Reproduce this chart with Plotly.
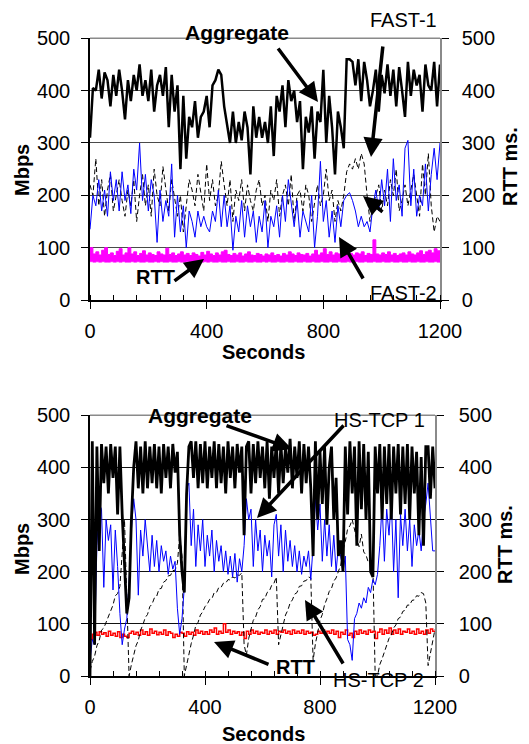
import plotly.graph_objects as go

# page is 529x744; the browser's default body margin puts the figure at (8, 8)
PAGE_OFF = 8
W, H = 529 - PAGE_OFF, 744 - PAGE_OFF

# ---------------- DATA : top panel (FAST TCP), samples every 10 s ----------------
t_top = list(range(0, 1201, 10))

fast_aggregate = [
    310, 405, 400, 440, 385, 435, 420, 370, 430, 390,
    440, 400, 345, 420, 380, 430, 400, 450, 390, 420,
    380, 440, 360, 410, 430, 390, 445, 330, 430, 360,
    410, 250, 390, 270, 350, 330, 380, 310, 350, 360,
    390, 330, 410, 420, 440, 430, 370, 330, 300, 360,
    300, 340, 305, 360, 330, 240, 370, 310, 350, 310,
    340, 300, 370, 275, 390, 360, 410, 330, 420, 380,
    400, 340, 380, 250, 350, 320, 370, 270, 360, 340,
    440, 300, 390, 330, 240, 360, 330, 290, 460, 460,
    455, 410, 460, 380, 455, 420, 370, 400, 440, 360,
    430, 395, 450, 390, 440, 370, 445, 400, 350, 455,
    390, 440, 410, 430, 360, 450, 410, 400, 455, 370,
    450]

fast_1 = [
    220, 200, 270, 180, 230, 160, 210, 240, 170, 200,
    230, 190, 160, 210, 180, 230, 150, 200, 240, 180,
    220, 160, 250, 200, 180, 255, 210, 170, 230, 190,
    160, 200, 130, 180, 230, 210, 180, 240, 200, 170,
    260, 190, 230, 180, 200, 265, 220, 180, 230, 150,
    210, 190, 230, 170, 220, 190, 170, 210, 230, 180,
    200, 150, 210, 190, 230, 160, 200, 220, 180, 240,
    150, 200, 210, 170, 220, 200, 150, 190, 220, 180,
    200, 250, 190, 210, 150, 190, 170, 200, 245, 260,
    250, 270, 250, 280, 260, 200, 150, 180, 200, 220,
    170, 210, 180, 230, 200, 250, 170, 190, 220, 180,
    210, 240, 200, 160, 260, 200, 280, 180, 130, 160,
    150]

fast_2 = [
    135, 200, 180, 230, 170, 210, 160, 245, 190, 230,
    170, 245, 190, 220, 165, 250, 210, 300, 190, 240,
    170, 230, 200, 110, 210, 150, 190, 160, 260, 120,
    200, 130, 180, 100, 170, 150, 120, 170, 140, 160,
    140, 130, 170, 150, 210, 140, 200, 140, 180, 95,
    160, 130, 190, 120, 180, 140, 170, 110, 160, 130,
    190, 100, 160, 140, 180, 120, 200, 150, 230, 180,
    140, 190, 120, 170, 150, 130, 200, 100, 160, 265,
    150, 190, 120, 170, 110, 180, 140, 190, 200, 205,
    190, 170, 140, 160, 140, 150, 130, 180, 210, 170,
    230, 180, 250, 150, 270, 190, 220, 160, 290, 305,
    180, 250, 160, 200, 180, 260, 170, 240, 290, 230,
    300]

fast_rtt_max = [
    100, 88, 92, 86, 95, 100, 87, 90, 85, 93,
    98, 86, 90, 100, 88, 92, 85, 89, 94, 86,
    90, 87, 85, 92, 88, 86, 99, 87, 90, 85,
    88, 92, 86, 89, 85, 90, 87, 84, 91, 86,
    93, 88, 85, 90, 86, 92, 95, 87, 85, 89,
    86, 90, 84, 88, 92, 86, 85, 89, 87, 84,
    88, 86, 90, 85, 87, 84, 89, 86, 92, 88,
    85, 90, 87, 86, 89, 84, 88, 95, 86, 90,
    98, 87, 92, 86, 90, 88, 85, 91, 87, 89,
    86, 90, 88, 92, 85, 89, 87, 115, 88, 86,
    90, 87, 92, 86, 89, 85, 88, 90, 86, 92,
    88, 86, 90, 94, 87, 92, 95, 90, 98, 94,
    92]

fast_rtt_min = [
    73, 72, 73, 72, 73, 72, 72, 73, 72, 73,
    72, 73, 72, 72, 73, 72, 73, 72, 72, 73,
    72, 72, 73, 72, 73, 72, 72, 73, 72, 72,
    73, 72, 72, 73, 72, 72, 73, 72, 72, 73,
    72, 73, 72, 72, 73, 72, 72, 73, 72, 72,
    73, 72, 72, 73, 72, 72, 73, 72, 72, 73,
    72, 73, 72, 72, 73, 72, 72, 73, 72, 72,
    73, 72, 72, 73, 72, 72, 73, 72, 72, 73,
    72, 72, 73, 72, 72, 73, 72, 72, 73, 72,
    72, 73, 72, 72, 73, 72, 72, 73, 72, 72,
    73, 72, 72, 73, 72, 72, 73, 72, 72, 73,
    72, 72, 73, 72, 72, 73, 72, 72, 73, 72,
    73]

# ---------------- DATA : bottom panel (HS-TCP), samples every 8 s ----------------
t_bot = list(range(0, 1201, 8))

hs_aggregate = [
    0, 450, 60, 440, 240, 445, 370, 440, 350, 445,
    380, 440, 310, 440, 310, 200, 120, 150, 300, 400,
    450, 360, 440, 350, 450, 360, 440, 370, 445, 360,
    440, 350, 445, 380, 440, 360, 445, 390, 430, 270,
    200, 160, 350, 440, 450, 380, 450, 360, 445, 370,
    450, 360, 440, 380, 450, 360, 445, 370, 440, 350,
    450, 380, 440, 360, 445, 390, 440, 270, 440, 450,
    350, 445, 370, 450, 380, 440, 360, 450, 340, 440,
    380, 450, 350, 445, 370, 440, 390, 455, 360, 440,
    380, 450, 350, 445, 370, 440, 360, 230, 450, 300,
    430, 330, 440, 290, 400, 440, 300, 380, 230, 260,
    200, 440, 310, 450, 350, 440, 250, 450, 320, 445,
    300, 430, 200, 190, 440, 350, 445, 300, 440, 330,
    445, 300, 440, 350, 445, 310, 440, 330, 445, 300,
    440, 350, 430, 270, 420, 250, 440, 440, 340, 440,
    360]

hs_tcp_1 = [
    30, 70, 60, 250, 330, 320, 170, 300, 260, 290,
    165, 280, 210, 120, 60, 90, 110, 180, 280, 340,
    300, 155, 280, 230, 300, 250, 200, 270, 210, 260,
    200, 250, 220, 240, 195, 230, 205, 220, 130, 80,
    110, 170, 360, 370, 250, 320, 210, 290, 240, 300,
    210, 270, 230, 280, 200, 260, 220, 250, 200, 240,
    195, 230, 190, 235, 180, 225, 200, 250, 340, 300,
    320, 210, 300, 240, 280, 200, 270, 230, 260, 190,
    290, 310, 230, 290, 200, 280, 220, 260, 210, 250,
    200, 240, 195, 230, 210, 240, 185, 250, 340, 280,
    330, 220, 300, 230, 290, 210, 270, 200, 250, 230,
    200, 230, 70, 60, 30, 110, 120, 140, 130, 150,
    140, 170, 160, 185, 175, 195, 250, 330, 220, 320,
    270, 340, 200, 300, 150, 310, 250, 320, 240, 300,
    210, 290, 250, 280, 240, 300, 330, 370, 310, 240,
    240]

hs_tcp_2 = [
    10, 28, 38, 58, 68, 88, 92, 104, 112, 128,
    136, 154, 158, 172, 230, 300, 150, 0, 22, 38,
    58, 68, 88, 98, 112, 118, 133, 138, 150, 153,
    167, 168, 180, 183, 192, 193, 202, 203, 216, 270,
    230, 0, 22, 38, 62, 78, 97, 103, 117, 123,
    133, 138, 147, 148, 160, 160, 170, 170, 178, 178,
    185, 184, 190, 188, 194, 193, 198, 60, 40, 72,
    88, 107, 113, 127, 133, 147, 148, 160, 163, 174,
    178, 190, 60, 82, 98, 117, 126, 140, 146, 157,
    160, 172, 173, 182, 183, 190, 188, 30, 62, 83,
    107, 118, 137, 148, 162, 168, 182, 188, 202, 213,
    242, 258, 282, 288, 300, 278, 262, 248, 272, 238,
    232, 218, 217, 208, 0, 0, 22, 33, 47, 58,
    72, 78, 92, 98, 110, 113, 124, 126, 136, 136,
    145, 146, 154, 153, 160, 158, 140, 20, 42, 68,
    90]

hs_rtt = [
    70, 80, 84, 78, 85, 80, 83, 76, 86, 78,
    82, 76, 85, 74, 80, 76, 74, 82, 86, 80,
    84, 78, 88, 80, 85, 78, 90, 82, 86, 79,
    84, 80, 88, 78, 85, 82, 74, 80, 76, 84,
    82, 76, 85, 80, 84, 78, 88, 82, 86, 80,
    85, 80, 88, 84, 92, 80, 86, 82, 100, 84,
    88, 80, 86, 82, 85, 78, 84, 72, 86, 80,
    88, 82, 86, 80, 84, 82, 88, 80, 86, 82,
    88, 80, 86, 84, 88, 82, 86, 80, 88, 82,
    86, 82, 88, 80, 86, 82, 84, 78, 80, 86,
    82, 88, 80, 86, 82, 88, 80, 86, 74, 84,
    80, 88, 78, 82, 74, 86, 80, 88, 82, 86,
    80, 88, 84, 86, 72, 84, 90, 80, 88, 82,
    92, 80, 88, 82, 90, 80, 86, 84, 90, 82,
    86, 80, 90, 82, 86, 80, 88, 82, 90, 86,
    84]

x_ticks = [0, 400, 800, 1200]
y_ticks = [0, 100, 200, 300, 400, 500]

FONT = "Liberation Sans, Arial, sans-serif"

fig = go.Figure()

# ---- top panel traces ----
fig.add_trace(go.Scatter(x=t_top, y=fast_rtt_min, mode="lines", line=dict(color="#ff00ff", width=0.5, shape="hv"),
                         xaxis="x", yaxis="y", showlegend=False, hoverinfo="skip"))
fig.add_trace(go.Scatter(x=t_top, y=fast_rtt_max, mode="lines", line=dict(color="#ff00ff", width=1, shape="hv"),
                         fill="tonexty", fillcolor="#ff00ff", xaxis="x", yaxis="y", showlegend=False, name="RTT"))
fig.add_trace(go.Scatter(x=t_top, y=fast_1, mode="lines", line=dict(color="black", width=1, dash="5px,3px"),
                         xaxis="x", yaxis="y", showlegend=False, name="FAST-1"))
fig.add_trace(go.Scatter(x=t_top, y=fast_2, mode="lines", line=dict(color="#0000ff", width=1),
                         xaxis="x", yaxis="y", showlegend=False, name="FAST-2"))
fig.add_trace(go.Scatter(x=t_top, y=fast_aggregate, mode="lines", line=dict(color="black", width=2.5),
                         xaxis="x", yaxis="y", showlegend=False, name="Aggregate"))

# ---- bottom panel traces ----
fig.add_trace(go.Scatter(x=t_bot, y=hs_rtt, mode="lines", line=dict(color="#ff0000", width=1.5, shape="hv"),
                         xaxis="x2", yaxis="y3", showlegend=False, name="RTT"))
fig.add_trace(go.Scatter(x=t_bot, y=hs_tcp_2, mode="lines", line=dict(color="black", width=1, dash="5px,3px"),
                         xaxis="x2", yaxis="y3", showlegend=False, name="HS-TCP 2"))
fig.add_trace(go.Scatter(x=t_bot, y=hs_tcp_1, mode="lines", line=dict(color="#0000ff", width=1),
                         xaxis="x2", yaxis="y3", showlegend=False, name="HS-TCP 1"))
fig.add_trace(go.Scatter(x=t_bot, y=hs_aggregate, mode="lines", line=dict(color="black", width=2.8),
                         xaxis="x2", yaxis="y3", showlegend=False, name="Aggregate"))

# invisible traces to activate right axes
fig.add_trace(go.Scatter(x=[None], y=[None], xaxis="x", yaxis="y2", showlegend=False))
fig.add_trace(go.Scatter(x=[None], y=[None], xaxis="x2", yaxis="y4", showlegend=False))

tickfont = dict(family=FONT, size=20, color="black")


def xax(domain, anchor):
    return dict(domain=domain, anchor=anchor, range=[0, 1200], tickmode="array", tickvals=x_ticks,
                ticks="outside", ticklen=7, tickwidth=1.2, tickcolor="black", automargin=False,
                showline=True, linecolor="black", linewidth=1.5, showgrid=False, zeroline=False,
                tickfont=tickfont, ticklabelstandoff=5,
                minor=dict(tickmode="linear", tick0=0, dtick=80, ticks="inside", ticklen=5,
                           tickcolor="black", tickwidth=1, showgrid=False))


def yax(domain, anchor, gridcolor):
    return dict(domain=domain, anchor=anchor, range=[0, 500], tickmode="array", tickvals=y_ticks,
                ticks="outside", ticklen=7, tickwidth=1.2, tickcolor="black", automargin=False,
                showline=True, linecolor="black", linewidth=1.5, showgrid=True, gridcolor=gridcolor,
                gridwidth=1, zeroline=False, tickfont=tickfont, ticklabelstandoff=7)


def yax_right(overlay, anchor, standoff):
    return dict(overlaying=overlay, anchor=anchor, side="right", range=[0, 500], tickmode="array",
                tickvals=y_ticks, ticks="outside", ticklen=7, tickwidth=1.2, tickcolor="black",
                showline=True, linecolor="#8a8a8a", linewidth=1.5, showgrid=False, zeroline=False,
                tickfont=tickfont, ticklabelstandoff=standoff, automargin=False)


def px(xp, yp):
    """page pixel -> paper fraction"""
    return (xp - PAGE_OFF) / W, 1 - (yp - PAGE_OFF) / H


top_x = [px(90, 0)[0], px(440, 0)[0]]
top_y = [px(0, 300)[1], px(0, 38.3)[1]]
bot_x = [px(90, 0)[0], px(435, 0)[0]]
bot_y = [px(0, 676)[1], px(0, 415.3)[1]]

fig.update_layout(
    width=W, height=H, margin=dict(l=0, r=0, t=0, b=0, autoexpand=False),
    paper_bgcolor="white", plot_bgcolor="white",
    font=dict(family=FONT, color="black"),
    xaxis=xax(top_x, "y"),
    yaxis=yax(top_y, "x", "#4a4a4a"),
    yaxis2=yax_right("y", "x", 9),
    xaxis2=xax(bot_x, "y3"),
    yaxis3=yax(bot_y, "x2", "#111111"),
    yaxis4=yax_right("y3", "x2", 11),
)

# top border lines (gray)
shapes = []
for (xd, yd) in [(top_x, top_y), (bot_x, bot_y)]:
    shapes.append(dict(type="line", xref="paper", yref="paper", x0=xd[0], x1=xd[1], y0=yd[1], y1=yd[1],
                       line=dict(color="#8a8a8a", width=1.5), layer="above"))
fig.update_layout(shapes=shapes)


def label(text, xp, yp, size=20, bold=False, angle=0):
    x, y = px(xp, yp)
    return dict(x=x, y=y, xref="paper", yref="paper", text=f"<b>{text}</b>" if bold else text,
                showarrow=False, xanchor="center", yanchor="middle", textangle=angle,
                font=dict(family=FONT, size=size, color="black"))


def arrow(tail, head):
    x, y = px(*head)
    return dict(x=x, y=y, xref="paper", yref="paper", ax=tail[0] - head[0], ay=tail[1] - head[1],
                axref="pixel", ayref="pixel", text="", showarrow=True, arrowhead=2, arrowsize=1.1,
                arrowwidth=3.5, arrowcolor="black")


ann = [
    # axis titles
    label("Mbps", 22, 170, 20, True, -90),
    label("RTT ms.", 510, 167, 20, True, -90),
    label("Seconds", 263, 352, 20, True),
    label("Mbps", 22, 549, 20, True, -90),
    label("RTT ms.", 505, 545, 20, True, -90),
    label("Seconds", 263, 734, 20, True),
    # top panel callouts
    label("Aggregate", 237, 33, 21, True),
    label("FAST-1", 403, 20, 20),
    label("FAST-2", 403, 293, 20),
    label("RTT", 155, 277, 20, True),
    arrow((277, 47), (318, 102)),
    arrow((383, 45), (371, 157)),
    arrow((384, 213), (363, 196)),
    arrow((364, 280), (339, 237)),
    arrow((173, 282), (204, 259)),
    # bottom panel callouts
    label("Aggregate", 200, 415, 21, True),
    label("HS-TCP 1", 380, 420, 20),
    label("HS-TCP 2", 378, 680, 20),
    label("RTT", 295, 667, 20, True),
    arrow((225, 425), (292, 449)),
    arrow((345, 424), (257, 518)),
    arrow((344, 665), (305, 600)),
    arrow((270, 665), (214, 642)),
]
fig.update_layout(annotations=ann)

fig.write_html("out.html")
